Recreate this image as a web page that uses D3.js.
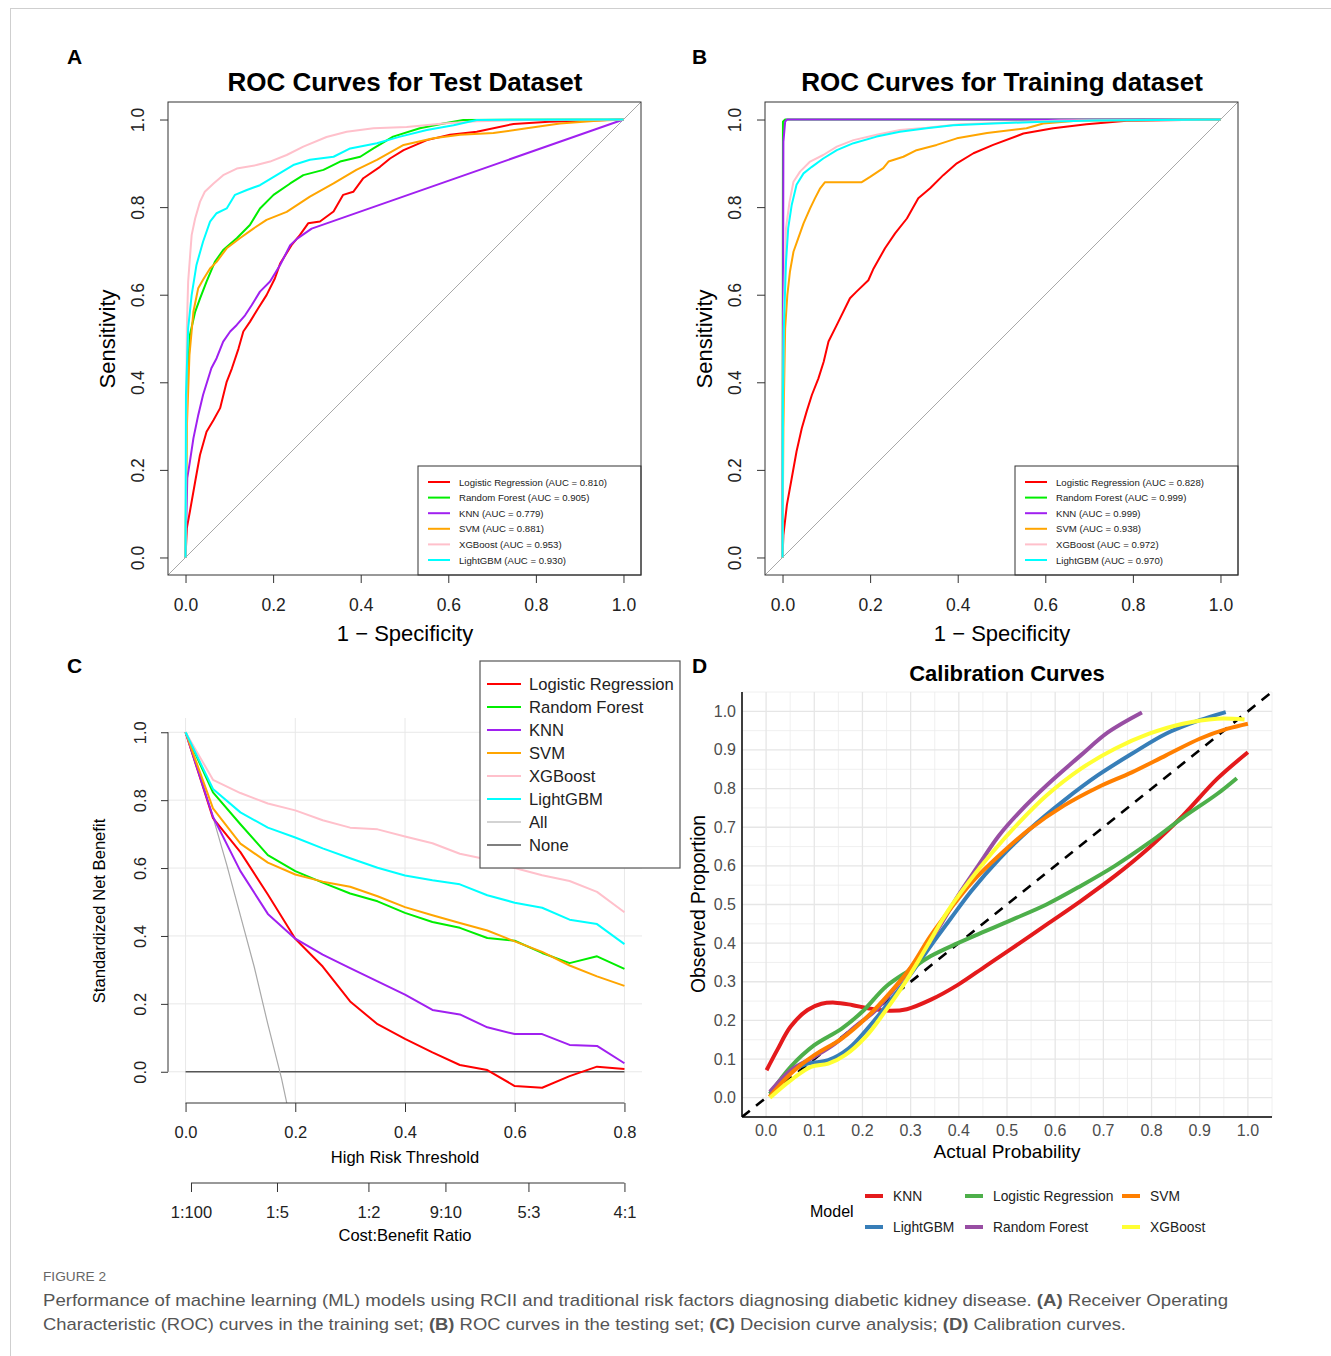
<!DOCTYPE html>
<html><head><meta charset="utf-8">
<script src="https://cdn.jsdelivr.net/npm/d3@7"></script>
<style>
body{margin:0;background:#fff}
svg{display:block}
text{font-family:"Liberation Sans",Arial,Helvetica,sans-serif}
</style></head>
<body><svg id="fig" width="1331" height="1356"></svg>
<script>
// ---------------- DATA ----------------
const rocModels = ["Logistic Regression","Random Forest","KNN","SVM","XGBoost","LightGBM"];
const rocColors = ["#FF0000","#00EE00","#A020F0","#FFA500","#FFC0CB","#00FFFF"];
const testAUC  = ["0.810","0.905","0.779","0.881","0.953","0.930"];
const trainAUC = ["0.828","0.999","0.999","0.938","0.972","0.970"];
const rocTicks = [0,0.2,0.4,0.6,0.8,1.0];

// ROC test dataset: [1-specificity, sensitivity]
const rocTestLR = [[0,0],[0.003,0.067],[0.01,0.105],[0.022,0.173],[0.033,0.234],[0.048,0.287],[0.064,0.314],[0.079,0.341],[0.094,0.401],[0.106,0.432],[0.121,0.477],[0.132,0.516],[0.147,0.538],[0.166,0.569],[0.185,0.599],[0.204,0.637],[0.216,0.671],[0.242,0.713],[0.261,0.736],[0.28,0.763],[0.307,0.767],[0.338,0.79],[0.36,0.828],[0.383,0.835],[0.406,0.866],[0.444,0.892],[0.467,0.911],[0.498,0.93],[0.551,0.953],[0.604,0.965],[0.665,0.972],[0.749,0.99],[0.83,0.995],[1,1]];
const rocTestRF = [[0,0],[0.003,0.371],[0.01,0.508],[0.022,0.561],[0.033,0.591],[0.048,0.63],[0.067,0.675],[0.086,0.702],[0.117,0.729],[0.147,0.759],[0.17,0.797],[0.201,0.828],[0.239,0.854],[0.269,0.873],[0.315,0.885],[0.353,0.904],[0.399,0.915],[0.429,0.934],[0.474,0.961],[0.535,0.98],[0.589,0.991],[0.634,0.999],[1,1]];
const rocTestKNN = [[0,0],[0.004,0.181],[0.01,0.219],[0.018,0.272],[0.029,0.325],[0.04,0.371],[0.059,0.432],[0.071,0.455],[0.086,0.493],[0.102,0.516],[0.117,0.531],[0.136,0.553],[0.151,0.576],[0.17,0.607],[0.193,0.63],[0.216,0.668],[0.239,0.713],[0.255,0.728],[0.288,0.751],[1,1]];
const rocTestSVM = [[0,0],[0.003,0.295],[0.009,0.462],[0.018,0.561],[0.029,0.615],[0.04,0.634],[0.056,0.66],[0.071,0.675],[0.094,0.706],[0.124,0.729],[0.155,0.751],[0.185,0.771],[0.231,0.789],[0.284,0.824],[0.338,0.854],[0.39,0.885],[0.437,0.908],[0.498,0.942],[0.566,0.957],[0.627,0.965],[0.703,0.969],[0.779,0.98],[0.855,0.991],[0.939,0.997],[1,1]];
const rocTestXGB = [[0,0],[0.003,0.523],[0.006,0.63],[0.014,0.736],[0.022,0.774],[0.033,0.812],[0.044,0.835],[0.064,0.854],[0.086,0.873],[0.117,0.888],[0.162,0.896],[0.193,0.904],[0.231,0.919],[0.269,0.938],[0.322,0.96],[0.368,0.972],[0.429,0.98],[0.505,0.983],[0.589,0.991],[0.665,0.996],[0.779,0.999],[1,1]];
const rocTestLGB = [[0,0],[0.001,0.371],[0.006,0.523],[0.014,0.599],[0.025,0.668],[0.04,0.721],[0.056,0.767],[0.071,0.786],[0.094,0.797],[0.113,0.828],[0.14,0.839],[0.17,0.85],[0.208,0.873],[0.246,0.896],[0.284,0.908],[0.338,0.915],[0.376,0.934],[0.437,0.946],[0.49,0.961],[0.551,0.976],[0.612,0.987],[0.665,0.999],[1,1]];

// ROC training dataset
const rocTrainLR = [[0,0],[0.002,0.051],[0.01,0.12],[0.021,0.181],[0.032,0.242],[0.044,0.295],[0.055,0.333],[0.067,0.371],[0.082,0.409],[0.094,0.447],[0.105,0.493],[0.124,0.531],[0.154,0.592],[0.169,0.607],[0.196,0.633],[0.208,0.66],[0.234,0.706],[0.257,0.74],[0.284,0.774],[0.31,0.82],[0.337,0.843],[0.367,0.873],[0.398,0.9],[0.436,0.923],[0.481,0.942],[0.55,0.968],[0.618,0.98],[0.694,0.989],[0.786,0.997],[1,1]];
const rocTrainRF = [[0,0],[0.001,0.995],[0.006,1],[1,1]];
const rocTrainKNN = [[0,0],[0.002,0.949],[0.006,0.995],[0.01,1],[1,1]];
const rocTrainSVM = [[0,0],[0.002,0.295],[0.006,0.523],[0.011,0.599],[0.017,0.653],[0.025,0.698],[0.036,0.729],[0.048,0.763],[0.063,0.797],[0.074,0.82],[0.086,0.843],[0.097,0.857],[0.181,0.857],[0.2,0.869],[0.23,0.889],[0.242,0.904],[0.276,0.915],[0.306,0.93],[0.352,0.942],[0.398,0.957],[0.467,0.969],[0.557,0.98],[0.595,0.991],[0.672,0.997],[1,1]];
const rocTrainXGB = [[0,0],[0.001,0.295],[0.003,0.561],[0.008,0.752],[0.016,0.812],[0.025,0.858],[0.04,0.881],[0.063,0.904],[0.093,0.919],[0.124,0.938],[0.162,0.953],[0.215,0.965],[0.268,0.976],[0.329,0.981],[0.405,0.989],[0.519,0.993],[0.634,0.998],[1,1]];
const rocTrainLGB = [[0,0],[0.001,0.371],[0.003,0.523],[0.008,0.675],[0.013,0.752],[0.021,0.805],[0.032,0.851],[0.048,0.877],[0.067,0.892],[0.093,0.911],[0.124,0.93],[0.162,0.946],[0.215,0.961],[0.268,0.972],[0.329,0.98],[0.39,0.987],[0.481,0.991],[0.596,0.995],[0.71,0.998],[1,1]];

// Decision curve analysis
const dcaThresholds = [0,0.05,0.1,0.15,0.2,0.25,0.3,0.35,0.4,0.45,0.5,0.55,0.6,0.65,0.7,0.75,0.8];
const dcaLR  = [1.0,0.747,0.647,0.522,0.392,0.31,0.207,0.14,0.097,0.057,0.02,0.005,-0.042,-0.047,-0.013,0.015,0.008];
const dcaRF  = [1.0,0.823,0.729,0.638,0.591,0.557,0.525,0.502,0.468,0.441,0.424,0.394,0.386,0.35,0.32,0.34,0.303];
const dcaKNN = [1.0,0.751,0.591,0.465,0.392,0.345,0.305,0.266,0.227,0.182,0.169,0.131,0.111,0.111,0.079,0.076,0.025];
const dcaSVM = [1.0,0.776,0.672,0.616,0.581,0.56,0.545,0.517,0.485,0.461,0.438,0.416,0.384,0.353,0.313,0.281,0.253];
const dcaXGB = [1.0,0.86,0.821,0.79,0.77,0.741,0.719,0.714,0.693,0.673,0.642,0.625,0.60,0.579,0.562,0.53,0.47];
const dcaLGB = [1.0,0.833,0.764,0.719,0.69,0.658,0.629,0.601,0.578,0.564,0.552,0.52,0.498,0.483,0.448,0.435,0.376];
const dcaAllT = [0,0.025,0.05,0.075,0.1,0.125,0.15,0.175,0.2];
const dcaAll  = [1.0,0.877,0.75,0.61,0.46,0.31,0.14,-0.02,-0.21];
const dcaNoneT = [0,0.8];
const dcaNone  = [0,0];
const dcaLegend = ["Logistic Regression","Random Forest","KNN","SVM","XGBoost","LightGBM","All","None"];
const dcaColors = ["#FF0000","#00EE00","#A020F0","#FFA500","#FFC0CB","#00FFFF","#BEBEBE","#555555"];
const dcaXTicks = [0,0.2,0.4,0.6,0.8];
const dcaYTicks = [0,0.2,0.4,0.6,0.8,1.0];
const costBenefit = [[1,100],[1,5],[1,2],[9,10],[5,3],[4,1]];

// Calibration curves: [actual, observed]
const calModels = ["KNN","LightGBM","Logistic Regression","Random Forest","SVM","XGBoost"];
const calColors = ["#E41A1C","#377EB8","#4DAF4A","#984EA3","#FF7F00","#FFFF33"];
const calKNN = [[0.001,0.071],[0.023,0.123],[0.051,0.184],[0.086,0.227],[0.115,0.243],[0.143,0.246],[0.178,0.24],[0.214,0.231],[0.256,0.225],[0.292,0.229],[0.341,0.253],[0.398,0.292],[0.455,0.34],[0.511,0.387],[0.582,0.448],[0.653,0.509],[0.724,0.574],[0.795,0.647],[0.865,0.73],[0.936,0.825],[1.0,0.894]];
const calLGB = [[0.008,0.01],[0.051,0.067],[0.086,0.088],[0.129,0.097],[0.171,0.127],[0.214,0.184],[0.256,0.249],[0.299,0.318],[0.341,0.392],[0.384,0.465],[0.426,0.535],[0.483,0.617],[0.547,0.695],[0.618,0.769],[0.688,0.834],[0.759,0.89],[0.83,0.942],[0.9,0.977],[0.954,0.998]];
const calLR  = [[0.008,0.01],[0.051,0.08],[0.1,0.136],[0.157,0.179],[0.2,0.223],[0.249,0.288],[0.299,0.331],[0.341,0.366],[0.398,0.4],[0.455,0.431],[0.511,0.461],[0.582,0.5],[0.653,0.548],[0.724,0.6],[0.795,0.66],[0.865,0.725],[0.936,0.786],[0.977,0.827]];
const calRF  = [[0.008,0.015],[0.051,0.071],[0.1,0.106],[0.143,0.14],[0.185,0.184],[0.228,0.227],[0.27,0.288],[0.313,0.357],[0.356,0.435],[0.398,0.522],[0.44,0.6],[0.483,0.678],[0.525,0.738],[0.582,0.808],[0.653,0.886],[0.71,0.946],[0.78,0.997]];
const calSVM = [[0.007,0.002],[0.051,0.062],[0.1,0.11],[0.157,0.153],[0.214,0.214],[0.256,0.27],[0.299,0.335],[0.341,0.418],[0.384,0.491],[0.426,0.556],[0.483,0.626],[0.547,0.695],[0.618,0.756],[0.688,0.803],[0.759,0.842],[0.83,0.886],[0.9,0.929],[0.958,0.955],[1.0,0.968]];
const calXGB = [[0.008,0.0],[0.051,0.045],[0.093,0.08],[0.129,0.088],[0.164,0.11],[0.207,0.158],[0.249,0.227],[0.292,0.305],[0.334,0.392],[0.377,0.483],[0.419,0.556],[0.469,0.634],[0.525,0.712],[0.582,0.782],[0.653,0.851],[0.724,0.903],[0.795,0.942],[0.865,0.968],[0.936,0.981],[0.993,0.979]];
const calTicks = [0,0.1,0.2,0.3,0.4,0.5,0.6,0.7,0.8,0.9,1.0];

// ---------------- DRAW ----------------
const svg = d3.select("#fig");
svg.append("rect").attr("width",1331).attr("height",1356).attr("fill","#fff");
svg.append("defs");
// figure frame
svg.append("line").attr("x1",10).attr("x2",1331).attr("y1",8.5).attr("y2",8.5).attr("stroke","#cfcfcf");
svg.append("line").attr("x1",10.5).attr("x2",10.5).attr("y1",8).attr("y2",1356).attr("stroke","#cfcfcf");

function letter(t,x,y){ svg.append("text").attr("x",x).attr("y",y).attr("font-size",21).attr("font-weight","bold").text(t); }
letter("A",67,64); letter("B",692,64); letter("C",67,673); letter("D",692,673);

function rocPanel(ox, title, curves, aucs){
  const g = svg.append("g");
  const x = d3.scaleLinear().domain([-0.04,1.04]).range([ox, ox+473]);
  const y = d3.scaleLinear().domain([-0.04,1.04]).range([575,102]);
  g.append("text").attr("x",ox+237).attr("y",91).attr("text-anchor","middle")
    .attr("font-size",26).attr("font-weight","bold").text(title);
  // diagonal
  g.append("line").attr("x1",x(-0.04)).attr("y1",y(-0.04)).attr("x2",x(1.04)).attr("y2",y(1.04))
    .attr("stroke","#a8a8a8").attr("stroke-width",1);
  const line = d3.line().x(d=>x(d[0])).y(d=>y(d[1]));
  curves.forEach((c,i)=>{
    g.append("path").datum(c).attr("d",line).attr("fill","none")
      .attr("stroke",rocColors[i]).attr("stroke-width",2).attr("stroke-linejoin","round");
  });
  // axes
  const ax = g.append("g").attr("transform",`translate(0,575)`)
    .call(d3.axisBottom(x).tickValues(rocTicks).tickFormat(d3.format(".1f")).tickSize(8).tickPadding(16));
  ax.select(".domain").remove();
  ax.selectAll("text").attr("font-size",17.5).attr("fill","#222").attr("font-family","Liberation Sans, Arial");
  ax.selectAll("line").attr("stroke","#333");
  const ay = g.append("g").attr("transform",`translate(${ox},0)`)
    .call(d3.axisLeft(y).tickValues(rocTicks).tickFormat(d3.format(".1f")).tickSize(8));
  ay.select(".domain").remove();
  ay.selectAll("line").attr("stroke","#333");
  ay.selectAll("text").attr("font-size",17.5).attr("fill","#222").attr("font-family","Liberation Sans, Arial")
    .attr("transform","rotate(-90)").attr("x",0).attr("y",-24).attr("dy",0).attr("text-anchor","middle");
  g.append("text").attr("x",ox+237).attr("y",641).attr("text-anchor","middle").attr("font-size",22).text("1 \u2212 Specificity");
  g.append("text").attr("transform",`translate(${ox-53},339) rotate(-90)`).attr("text-anchor","middle")
    .attr("font-size",22).text("Sensitivity");
  // legend
  const lx = ox+250;
  g.append("rect").attr("x",lx).attr("y",466).attr("width",223).attr("height",109)
    .attr("fill","#fff").attr("stroke","#333");
  rocModels.forEach((m,i)=>{
    const yy = 482 + i*15.6;
    g.append("line").attr("x1",lx+10).attr("x2",lx+32).attr("y1",yy).attr("y2",yy)
      .attr("stroke",rocColors[i]).attr("stroke-width",2);
    g.append("text").attr("x",lx+41).attr("y",yy+3.5).attr("font-size",9.6).attr("fill","#222")
      .text(`${m} (AUC = ${aucs[i]})`);
  });
  // box
  g.append("rect").attr("x",ox).attr("y",102).attr("width",473).attr("height",473)
    .attr("fill","none").attr("stroke","#333");
}
rocPanel(168,"ROC Curves for Test Dataset",[rocTestLR,rocTestRF,rocTestKNN,rocTestSVM,rocTestXGB,rocTestLGB],testAUC);
rocPanel(765,"ROC Curves for Training dataset",[rocTrainLR,rocTrainRF,rocTrainKNN,rocTrainSVM,rocTrainXGB,rocTrainLGB],trainAUC);

// ---- Panel C: DCA ----
(function(){
  const g = svg.append("g");
  const x = d3.scaleLinear().domain([-0.032,0.832]).range([168,642]);
  const y = d3.scaleLinear().domain([-0.092,1.042]).range([1103,718]);
  // grid
  dcaXTicks.forEach(t=>g.append("line").attr("x1",x(t)).attr("x2",x(t)).attr("y1",718).attr("y2",1103)
    .attr("stroke","#e8e8e8").attr("stroke-width",1));
  dcaYTicks.forEach(t=>g.append("line").attr("x1",168).attr("x2",642).attr("y1",y(t)).attr("y2",y(t))
    .attr("stroke","#e8e8e8").attr("stroke-width",1));
  svg.select("defs").append("clipPath").attr("id","clipC").append("rect")
    .attr("x",168).attr("y",718).attr("width",474).attr("height",385);
  const cg = g.append("g").attr("clip-path","url(#clipC)");
  const line = d3.line().x(d=>x(d[0])).y(d=>y(d[1]));
  const series = [dcaLR,dcaRF,dcaKNN,dcaSVM,dcaXGB,dcaLGB];
  cg.append("path").datum(dcaNoneT.map((t,i)=>[t,dcaNone[i]])).attr("d",line).attr("fill","none")
    .attr("stroke",dcaColors[7]).attr("stroke-width",1.5);
  cg.append("path").datum(dcaAllT.map((t,i)=>[t,dcaAll[i]])).attr("d",line).attr("fill","none")
    .attr("stroke","#a9a9a9").attr("stroke-width",1.2);
  series.forEach((s,i)=>{
    cg.append("path").datum(dcaThresholds.map((t,j)=>[t,s[j]])).attr("d",line).attr("fill","none")
      .attr("stroke",dcaColors[i]).attr("stroke-width",2).attr("stroke-linejoin","round");
  });
  // y axis
  const ay = g.append("g").attr("transform","translate(168,0)")
    .call(d3.axisLeft(y).tickValues(dcaYTicks).tickFormat(d3.format(".1f")).tickSize(7));
  ay.select(".domain").remove();
  ay.selectAll("line").attr("stroke","#333");
  ay.selectAll("text").attr("font-size",16.5).attr("fill","#222").attr("font-family","Liberation Sans, Arial")
    .attr("transform","rotate(-90)").attr("x",0).attr("y",-22).attr("dy",0).attr("text-anchor","middle");
  g.append("line").attr("x1",168).attr("x2",168).attr("y1",y(0)).attr("y2",y(1)).attr("stroke","#333");
  g.append("text").attr("transform","translate(105,911) rotate(-90)").attr("text-anchor","middle")
    .attr("font-size",16.6).text("Standardized Net Benefit");
  // x axis
  const ax = g.append("g").attr("transform","translate(0,1103)")
    .call(d3.axisBottom(x).tickValues(dcaXTicks).tickFormat(d3.format(".1f")).tickSize(9).tickPadding(14));
  ax.select(".domain").remove();
  ax.selectAll("line").attr("stroke","#333");
  ax.selectAll("text").attr("font-size",16.5).attr("fill","#222").attr("font-family","Liberation Sans, Arial");
  g.append("line").attr("x1",x(0)).attr("x2",x(0.8)).attr("y1",1103).attr("y2",1103).attr("stroke","#333");
  g.append("text").attr("x",x(0.4)).attr("y",1163).attr("text-anchor","middle").attr("font-size",16.5).text("High Risk Threshold");
  // cost:benefit axis
  const cbT = costBenefit.map(r=>r[0]/(r[0]+r[1]));
  const ax2 = g.append("g").attr("transform","translate(0,1183)")
    .call(d3.axisBottom(x).tickValues(cbT).tickFormat((d,i)=>costBenefit[i][0]+":"+costBenefit[i][1]).tickSize(9).tickPadding(14));
  ax2.select(".domain").remove();
  ax2.selectAll("line").attr("stroke","#333");
  ax2.selectAll("text").attr("font-size",16.5).attr("fill","#222").attr("font-family","Liberation Sans, Arial");
  g.append("line").attr("x1",x(cbT[0])).attr("x2",x(0.8)).attr("y1",1183).attr("y2",1183).attr("stroke","#333");
  g.append("text").attr("x",x(0.4)).attr("y",1241).attr("text-anchor","middle").attr("font-size",16.5).text("Cost:Benefit Ratio");
  // legend
  g.append("rect").attr("x",480).attr("y",661).attr("width",200).attr("height",207)
    .attr("fill","#fff").attr("stroke","#555").attr("stroke-width",1.2);
  dcaLegend.forEach((m,i)=>{
    const yy = 684 + i*23;
    g.append("line").attr("x1",487).attr("x2",521).attr("y1",yy).attr("y2",yy)
      .attr("stroke",i===6?"#c4c4c4":dcaColors[i]).attr("stroke-width",i>=6?1.5:2);
    g.append("text").attr("x",529).attr("y",yy+5.8).attr("font-size",16.6).attr("fill","#222").text(m);
  });
})();

// ---- Panel D: Calibration ----
(function(){
  const g = svg.append("g");
  const x = d3.scaleLinear().domain([-0.05,1.05]).range([742,1272]);
  const y = d3.scaleLinear().domain([-0.05,1.05]).range([1117,692]);
  g.append("text").attr("x",1007).attr("y",681).attr("text-anchor","middle").attr("font-size",22)
    .attr("font-weight","bold").text("Calibration Curves");
  const minor = d3.range(-0.05,1.06,0.1);
  minor.forEach(t=>{
    g.append("line").attr("x1",x(t)).attr("x2",x(t)).attr("y1",692).attr("y2",1117).attr("stroke","#ececec").attr("stroke-width",0.8);
    g.append("line").attr("x1",742).attr("x2",1272).attr("y1",y(t)).attr("y2",y(t)).attr("stroke","#ececec").attr("stroke-width",0.8);
  });
  calTicks.forEach(t=>{
    g.append("line").attr("x1",x(t)).attr("x2",x(t)).attr("y1",692).attr("y2",1117).attr("stroke","#e6e6e6").attr("stroke-width",1.3);
    g.append("line").attr("x1",742).attr("x2",1272).attr("y1",y(t)).attr("y2",y(t)).attr("stroke","#e6e6e6").attr("stroke-width",1.3);
  });
  svg.select("defs").append("clipPath").attr("id","clipD").append("rect")
    .attr("x",742).attr("y",692).attr("width",530).attr("height",425);
  const cg = g.append("g").attr("clip-path","url(#clipD)");
  cg.append("line").attr("x1",x(-0.05)).attr("y1",y(-0.05)).attr("x2",x(1.05)).attr("y2",y(1.05))
    .attr("stroke","#000").attr("stroke-width",2.6).attr("stroke-dasharray","10,8");
  const line = d3.line().x(d=>x(d[0])).y(d=>y(d[1])).curve(d3.curveCatmullRom.alpha(0.5));
  [calKNN,calLGB,calLR,calRF,calSVM,calXGB].forEach((c,i)=>{
    cg.append("path").datum(c).attr("d",line).attr("fill","none").attr("stroke",calColors[i])
      .attr("stroke-width",4).attr("stroke-linecap","butt");
  });
  // axes lines
  g.append("line").attr("x1",742).attr("x2",742).attr("y1",692).attr("y2",1117).attr("stroke","#000").attr("stroke-width",1.5);
  g.append("line").attr("x1",742).attr("x2",1272).attr("y1",1117).attr("y2",1117).attr("stroke","#000").attr("stroke-width",1.5);
  calTicks.forEach(t=>{
    g.append("text").attr("x",x(t)).attr("y",1136).attr("text-anchor","middle").attr("font-size",16)
      .attr("fill","#4D4D4D").text(d3.format(".1f")(t));
    g.append("text").attr("x",736).attr("y",y(t)+5.5).attr("text-anchor","end").attr("font-size",16)
      .attr("fill","#4D4D4D").text(d3.format(".1f")(t));
  });
  g.append("text").attr("x",1007).attr("y",1158).attr("text-anchor","middle").attr("font-size",19).text("Actual Probability");
  g.append("text").attr("transform","translate(705,904) rotate(-90)").attr("text-anchor","middle")
    .attr("font-size",19.3).text("Observed Proportion");
  // legend
  g.append("text").attr("x",810).attr("y",1217).attr("font-size",16).text("Model");
  const colX = [865,965,1122];
  calModels.forEach((m,i)=>{
    const col = Math.floor(i/2), row = i%2;
    const yy = row===0?1196:1227;
    g.append("line").attr("x1",colX[col]).attr("x2",colX[col]+18).attr("y1",yy).attr("y2",yy)
      .attr("stroke",calColors[i]).attr("stroke-width",4);
    g.append("text").attr("x",colX[col]+28).attr("y",yy+5).attr("font-size",13.8).attr("fill","#222").text(m);
  });
})();

// ---- caption ----
svg.append("text").attr("x",43).attr("y",1281).attr("font-size",12.5).attr("fill","#666")
  .attr("font-family","Open Sans, sans-serif").attr("textLength",63).attr("lengthAdjust","spacingAndGlyphs").text("FIGURE 2");
function caption(y, parts, len){
  const t = svg.append("text").attr("x",43).attr("y",y).attr("font-size",17).attr("fill","#555")
    .attr("font-family","Open Sans, sans-serif").attr("textLength",len).attr("lengthAdjust","spacingAndGlyphs");
  parts.forEach(p=>t.append("tspan").attr("font-weight",p[1]?"bold":null).text(p[0]));
}
caption(1306,[["Performance of machine learning (ML) models using RCII and traditional risk factors diagnosing diabetic kidney disease. ",0],["(A)",1],[" Receiver Operating",0]],1185);
caption(1330,[["Characteristic (ROC) curves in the training set; ",0],["(B)",1],[" ROC curves in the testing set; ",0],["(C)",1],[" Decision curve analysis; ",0],["(D)",1],[" Calibration curves.",0]],1083);
</script></body></html>
